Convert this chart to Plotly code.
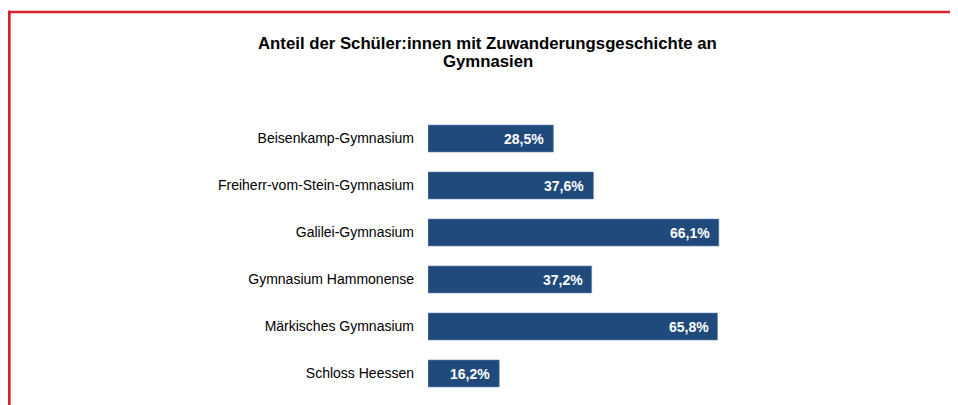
import plotly.graph_objects as go

schools = ["Beisenkamp-Gymnasium", "Freiherr-vom-Stein-Gymnasium", "Galilei-Gymnasium",
           "Gymnasium Hammonense", "Märkisches Gymnasium", "Schloss Heessen"]
shares = [28.5, 37.6, 66.1, 37.2, 65.8, 16.2]
labels = [f"{v:.1f}%".replace(".", ",") for v in shares]
title_lines = ["Anteil der Schüler:innen mit Zuwanderungsgeschichte an", "Gymnasien"]

# figure sits inside the page's 8px body margin
W, H = 950, 397
ML, MR, MT, MB = 420, 90, 107, 8
pw = W - ML - MR
ph = H - MT - MB

def px_x(x):
    return (x - ML) / pw

def px_y(y):
    return (H - MB - y) / ph

FONT = "Arial, Liberation Sans, sans-serif"

fig = go.Figure(go.Bar(
    y=schools, x=shares, orientation="h",
    marker=dict(color="#214a7c", line=dict(color="#6f8bb0", width=0.6)),
    width=0.575, hoverinfo="skip",
))

for s, v, t in zip(schools, shares, labels):
    fig.add_annotation(x=v, y=s, text=f"<b>{t}</b>", showarrow=False,
                       xanchor="right", xshift=-7,
                       font=dict(family=FONT, size=14, color="white"))

red = "#d9232d"
# top border
fig.add_shape(type="rect", xref="paper", yref="paper",
              x0=px_x(0), x1=px_x(W), y0=px_y(2.7), y1=px_y(5.3),
              fillcolor=red, line=dict(width=0), layer="above")
# left border
fig.add_shape(type="rect", xref="paper", yref="paper",
              x0=px_x(0), x1=px_x(2.7), y0=px_y(2.7), y1=px_y(H),
              fillcolor=red, line=dict(width=0), layer="above")

for line, yy in zip(title_lines, [35, 53.5]):
    fig.add_annotation(xref="paper", yref="paper", x=px_x(479.5), y=px_y(yy),
                       text=f"<b>{line}</b>", showarrow=False,
                       xanchor="center", yanchor="middle",
                       font=dict(family=FONT, size=16.75, color="black"))

fig.update_layout(
    width=W, height=H,
    margin=dict(l=ML, r=MR, t=MT, b=MB, autoexpand=False),
    paper_bgcolor="white", plot_bgcolor="white",
    showlegend=False,
    xaxis=dict(range=[0, 100], visible=False, fixedrange=True),
    yaxis=dict(autorange="reversed", showgrid=False, zeroline=False, showline=False,
               ticks="", ticklabelstandoff=13,
               tickfont=dict(family=FONT, size=14, color="black")),
)

fig.write_html("out.html", config={"displayModeBar": False})
